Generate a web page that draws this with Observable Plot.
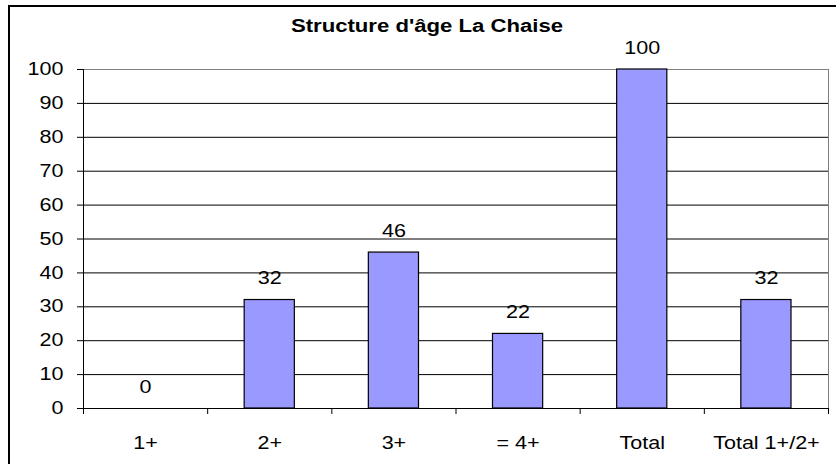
<!DOCTYPE html>
<html>
<head>
<meta charset="utf-8">
<script src="https://cdn.jsdelivr.net/npm/d3@7"></script>
<script src="https://cdn.jsdelivr.net/npm/@observablehq/plot@0.6"></script>
<style>
  html, body { margin: 0; padding: 0; background: #fff; overflow: hidden; width: 836px; height: 464px; }
  #wrap { position: relative; width: 836px; height: 464px; }
  #border { position: absolute; left: 8px; top: 5px; width: 900px; height: 600px; border: 2px solid #000; box-sizing: border-box; pointer-events: none; }
  #chart { position: absolute; left: 0; top: 0; }
</style>
</head>
<body>
<div id="wrap"><div id="chart"></div><div id="border"></div></div>
<script>
const title = "Structure d'âge La Chaise";
const categories = ["1+", "2+", "3+", "= 4+", "Total", "Total 1+/2+"];
const values = [0, 32, 46, 22, 100, 32];
const yTicks = [0, 10, 20, 30, 40, 50, 60, 70, 80, 90, 100];

const data = categories.map((c, i) => ({i, category: c, value: values[i]}));
const boundaries = d3.range(0, categories.length + 1);
const centers = categories.map((_, i) => i + 0.5);

const plot = Plot.plot({
  width: 836,
  height: 464,
  marginLeft: 83,
  marginRight: 8,
  marginTop: 69,
  marginBottom: 56,
  style: {fontFamily: "'Liberation Sans', Arial, sans-serif", fontSize: "17.5px", color: "#000", background: "transparent"},
  x: {type: "linear", domain: [0, categories.length], axis: null, label: null},
  y: {domain: [0, 100], axis: null, label: null},
  marks: [
    Plot.ruleY(yTicks.filter(d => d > 0 && d < 100), {stroke: "#000", strokeWidth: 1}),
    Plot.frame({stroke: "#808080", strokeWidth: 1}),
    Plot.rectY(data, {x1: "i", x2: d => d.i + 1, y: "value", insetLeft: 37, insetRight: 37, fill: "#9999ff", stroke: "#000", strokeWidth: 1.2}),
    Plot.ruleX([0], {stroke: "#000", strokeWidth: 1}),
    Plot.ruleY([0], {stroke: "#000", strokeWidth: 1}),
    Plot.axisY({ticks: yTicks, tickSize: 6, tickPadding: 14, label: null, stroke: "#000", strokeOpacity: 1, fill: "#000"}),
    Plot.axisX({ticks: boundaries, tickSize: 6, label: null, tickFormat: () => "", stroke: "#000", strokeOpacity: 1}),
    Plot.axisX({ticks: centers, tickSize: 0, tickPadding: 28, label: null, tickFormat: d => categories[Math.round(d - 0.5)], fill: "#000"}),
    Plot.text(data, {x: d => d.i + 0.5, y: "value", text: d => String(d.value), lineAnchor: "bottom", dy: -16, fill: "#000"}),
    Plot.text([title], {frameAnchor: "top", text: d => d, lineAnchor: "bottom", dx: -29, dy: -38, fontWeight: "bold", fontSize: 18, fill: "#000"})
  ]
});

document.getElementById("chart").appendChild(plot);

// The reference text is horizontally stretched; widen glyphs to match.
plot.querySelectorAll("text").forEach(t => {
  if (t.querySelector("tspan")) return;
  const len = t.getComputedTextLength();
  if (len > 0) {
    t.setAttribute("textLength", (len * 1.23).toFixed(2));
    t.setAttribute("lengthAdjust", "spacingAndGlyphs");
  }
});
</script>
</body>
</html>
